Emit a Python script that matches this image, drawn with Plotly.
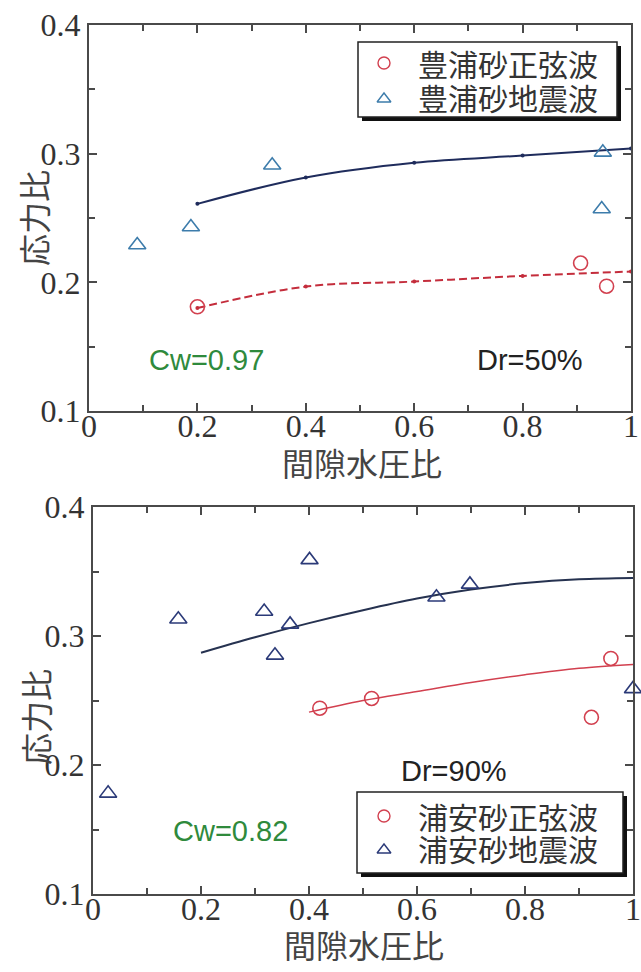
import plotly.graph_objects as go

# ---- data: Dr=50% (Toyoura sand) ----
top_sine_x = [0.200, 0.907, 0.955]
top_sine_y = [0.181, 0.215, 0.197]
top_quake_x = [0.089, 0.188, 0.338, 0.948, 0.946]
top_quake_y = [0.229, 0.243, 0.291, 0.301, 0.257]
top_fit_x = [0.2, 0.4, 0.6, 0.8, 1.0]
top_fit_quake_y = [0.261, 0.2815, 0.293, 0.2985, 0.304]
top_fit_sine_y = [0.180, 0.1967, 0.2006, 0.205, 0.2084]

# ---- data: Dr=90% (Urayasu sand) ----
bot_sine_x = [0.420, 0.516, 0.923, 0.959]
bot_sine_y = [0.244, 0.2516, 0.237, 0.2826]
bot_quake_x = [0.028, 0.158, 0.317, 0.337, 0.365, 0.401, 0.636, 0.698, 1.0]
bot_quake_y = [0.178, 0.313, 0.319, 0.285, 0.309, 0.359, 0.330, 0.340, 0.259]
bot_fit_quake_x = [0.2, 0.3, 0.4, 0.5, 0.6, 0.7, 0.8, 0.9, 1.0]
bot_fit_quake_y = [0.287, 0.299, 0.310, 0.320, 0.329, 0.336, 0.341, 0.344, 0.345]
bot_fit_sine_x = [0.4, 0.5, 0.6, 0.7, 0.8, 0.9, 1.0]
bot_fit_sine_y = [0.241, 0.250, 0.257, 0.264, 0.270, 0.275, 0.278]

x_ticks = [0, 0.2, 0.4, 0.6, 0.8, 1]
y_ticks = [0.1, 0.2, 0.3, 0.4]

top_labels = ["豊浦砂正弦波", "豊浦砂地震波"]
bot_labels = ["浦安砂正弦波", "浦安砂地震波"]
x_title = "間隙水圧比"
y_title = "応力比"

W, H = 641, 972
RED = "#d2404f"
BLUE_LIGHT = "#3d7cab"
NAVY = "#1f2c5c"
NAVY_TRI = "#2b3a78"
GREEN = "#2f8a3c"
AX = "#4a4a4a"

# pixel boxes of the two panels: (left, top, right, bottom)
TOP_BOX = (89, 25, 631, 411)
BOT_BOX = (93, 507, 633, 894)


def px(v):
    return v / W


def py(v):
    return 1 - v / H


def to_data(box, x_px, y_px):
    l, t, r, b = box
    return (x_px - l) / (r - l), 0.1 + 0.3 * (b - y_px) / (b - t)


fig = go.Figure()

# top panel
fig.add_trace(go.Scatter(x=top_fit_x, y=top_fit_quake_y, mode="lines+markers", line_shape="spline",
                         line=dict(color=NAVY, width=2), marker=dict(size=4, color=NAVY),
                         xaxis="x", yaxis="y", showlegend=False))
fig.add_trace(go.Scatter(x=top_fit_x, y=top_fit_sine_y, mode="lines+markers", line_shape="spline",
                         line=dict(color="#c42d3c", width=2, dash="8px,4px"), marker=dict(size=4, color="#c42d3c"),
                         xaxis="x", yaxis="y", showlegend=False))
fig.add_trace(go.Scatter(x=top_sine_x, y=top_sine_y, mode="markers", cliponaxis=False,
                         marker=dict(symbol="circle-open", size=14, color=RED, line=dict(width=1.6)),
                         xaxis="x", yaxis="y", showlegend=False))
fig.add_trace(go.Scatter(x=top_quake_x, y=top_quake_y, mode="markers", cliponaxis=False,
                         marker=dict(symbol="triangle-up-open", size=15, color=BLUE_LIGHT, line=dict(width=1.6)),
                         xaxis="x", yaxis="y", showlegend=False))

# bottom panel
fig.add_trace(go.Scatter(x=bot_fit_quake_x, y=bot_fit_quake_y, mode="lines", line_shape="spline",
                         line=dict(color="#263250", width=2), xaxis="x2", yaxis="y2", showlegend=False))
fig.add_trace(go.Scatter(x=bot_fit_sine_x, y=bot_fit_sine_y, mode="lines", line_shape="spline",
                         line=dict(color=RED, width=1.5), xaxis="x2", yaxis="y2", showlegend=False))
fig.add_trace(go.Scatter(x=bot_sine_x, y=bot_sine_y, mode="markers", cliponaxis=False,
                         marker=dict(symbol="circle-open", size=14, color=RED, line=dict(width=1.6)),
                         xaxis="x2", yaxis="y2", showlegend=False))
fig.add_trace(go.Scatter(x=bot_quake_x, y=bot_quake_y, mode="markers", cliponaxis=False,
                         marker=dict(symbol="triangle-up-open", size=15, color=NAVY_TRI, line=dict(width=1.6)),
                         xaxis="x2", yaxis="y2", showlegend=False))

# legend boxes with drop shadow (pixel positions), drawn beneath the traces
TOP_LEG = (358, 42, 617, 117)
BOT_LEG = (357, 792, 623, 873)
KEY_X = 384
TOP_ROWS = [63, 97]
BOT_ROWS = [816, 848]

shapes = []
for (l, t, r, b) in [TOP_LEG, BOT_LEG]:
    shapes.append(dict(type="rect", xref="paper", yref="paper", x0=px(l + 4), y0=py(t + 4),
                       x1=px(r + 4), y1=py(b + 4), fillcolor="#111111", line=dict(width=0), layer="below"))
    shapes.append(dict(type="rect", xref="paper", yref="paper", x0=px(l), y0=py(t), x1=px(r), y1=py(b),
                       fillcolor="white", line=dict(color="#222222", width=1.5), layer="below"))

# legend keys
for box, rows, xr, yr, tri_color in [(TOP_BOX, TOP_ROWS, "x", "y", BLUE_LIGHT),
                                     (BOT_BOX, BOT_ROWS, "x2", "y2", NAVY_TRI)]:
    kx, ky1 = to_data(box, KEY_X, rows[0])
    _, ky2 = to_data(box, KEY_X, rows[1] + 2)
    fig.add_trace(go.Scatter(x=[kx], y=[ky1], mode="markers", cliponaxis=False,
                             marker=dict(symbol="circle-open", size=12, color=RED, line=dict(width=1.4)),
                             xaxis=xr, yaxis=yr, showlegend=False))
    fig.add_trace(go.Scatter(x=[kx], y=[ky2], mode="markers", cliponaxis=False,
                             marker=dict(symbol="triangle-up-open", size=12, color=tri_color, line=dict(width=1.4)),
                             xaxis=xr, yaxis=yr, showlegend=False))

tickfont = dict(family="Liberation Serif", size=32, color="#333333")
common_x = dict(range=[0, 1], tickvals=x_ticks, ticks="inside", ticklen=8, tickwidth=1.5, tickcolor=AX,
                showline=True, linecolor=AX, linewidth=2, mirror="ticks", showgrid=False, zeroline=False,
                tickfont=tickfont, fixedrange=True, automargin=False,
                ticklabelstandoff=-14, ticklabeloverflow="allow",
                minor=dict(dtick=0.1, ticks="inside", ticklen=6, tickwidth=1.5, tickcolor=AX))
common_y = dict(range=[0.1, 0.4], tickvals=y_ticks, ticktext=["0.1", "0.2", "0.3", "0.4"],
                ticks="inside", ticklen=8, tickwidth=1.5, tickcolor=AX,
                showline=True, linecolor=AX, linewidth=2, mirror="ticks", showgrid=False, zeroline=False,
                tickfont=tickfont, fixedrange=True, automargin=False, ticklabeloverflow="allow",
                minor=dict(dtick=0.05, ticks="inside", ticklen=6, tickwidth=1.5, tickcolor=AX))

annotations = []
cjk = "Noto Sans CJK JP"
for labels, rows in [(top_labels, TOP_ROWS), (bot_labels, BOT_ROWS)]:
    for txt, yy in zip(labels, rows):
        annotations.append(dict(text=txt, xref="paper", yref="paper", x=px(416), y=py(yy),
                                xanchor="left", yanchor="middle", showarrow=False,
                                font=dict(family=cjk, size=30, color="#333333")))

# axis titles
for cx, cy in [(362, 462), (364, 944)]:
    annotations.append(dict(text=x_title, xref="paper", yref="paper", x=px(cx), y=py(cy),
                            xanchor="center", yanchor="middle", showarrow=False,
                            font=dict(family=cjk, size=32, color="#444444")))
for cx, cy in [(33, 218), (35, 717)]:
    annotations.append(dict(text=y_title, xref="paper", yref="paper", x=px(cx), y=py(cy),
                            xanchor="center", yanchor="middle", textangle=-90, showarrow=False,
                            font=dict(family=cjk, size=32, color="#444444")))

sans = "Liberation Sans"
annotations += [
    dict(text="Cw=0.97", xref="x", yref="y", x=0.216, y=0.1397, showarrow=False,
         font=dict(family=sans, size=29, color=GREEN)),
    dict(text="Dr=50%", xref="x", yref="y", x=0.813, y=0.1397, showarrow=False,
         font=dict(family=sans, size=29, color="#222222")),
    dict(text="Cw=0.82", xref="x2", yref="y2", x=0.254, y=0.1488, showarrow=False,
         font=dict(family=sans, size=29, color=GREEN)),
    dict(text="Dr=90%", xref="x2", yref="y2", x=0.668, y=0.1953, showarrow=False,
         font=dict(family=sans, size=29, color="#222222")),
]

l, t, r, b = TOP_BOX
l2, t2, r2, b2 = BOT_BOX
fig.update_layout(
    width=W, height=H, margin=dict(l=0, r=0, t=0, b=0, autoexpand=False),
    paper_bgcolor="white", plot_bgcolor="rgba(0,0,0,0)",
    xaxis=dict(domain=[px(l), px(r)], anchor="y", **common_x),
    yaxis=dict(domain=[py(b), py(t)], anchor="x", **common_y),
    xaxis2=dict(domain=[px(l2), px(r2)], anchor="y2", **common_x),
    yaxis2=dict(domain=[py(b2), py(t2)], anchor="x2", **common_y),
    shapes=shapes, annotations=annotations, showlegend=False,
)

fig.write_html("out.html")
